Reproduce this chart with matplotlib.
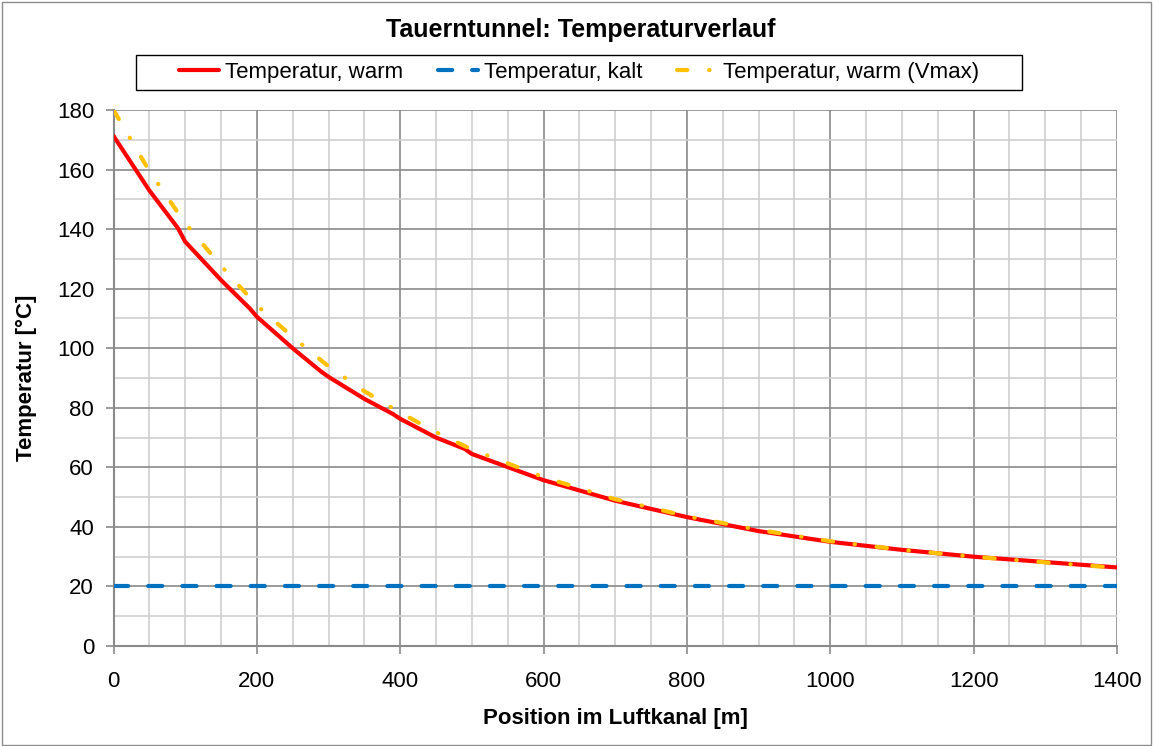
"""
Tauerntunnel: Temperaturverlauf entlang des Luftkanals.
"""
import matplotlib
matplotlib.use("Agg")
import matplotlib.pyplot as plt
from matplotlib.patches import Rectangle
from matplotlib.ticker import MultipleLocator

OUTPUT = "out.png"
FONT   = ["Liberation Sans", "DejaVu Sans"]
FS     = 16

RED    = "#ff0000"
BLUE   = "#0070c0"
YELLOW = "#ffc000"
GRID_MAJOR = "#8a8a8a"
GRID_MINOR = "#cfcfcf"

# warm case
pos_warm  = [0, 50, 90, 100, 150, 190, 200, 250, 290, 300, 350, 390, 400,
             450, 490, 500, 600, 700, 800, 900, 1000, 1100, 1200, 1300, 1400]
temp_warm = [171.3, 153.0, 140.3, 135.8, 122.9, 113.4, 110.6, 100.0, 92.1,
             90.4, 83.0, 77.9, 76.3, 70.0, 66.2, 64.5, 55.7, 48.8, 43.3,
             38.6, 35.0, 32.3, 30.0, 28.2, 26.4]

# cold case
pos_kalt  = [0, 1400]
temp_kalt = [20, 20]

# warm case, max. velocity
pos_vmax  = [0, 50, 100, 150, 200, 250, 300, 350, 400, 450, 500, 600, 700,
             800, 900, 1000, 1100, 1200, 1300, 1400]
temp_vmax = [180.0, 159.5, 142.0, 127.7, 114.4, 103.8, 93.9, 85.6, 78.4,
             71.8, 66.0, 56.7, 49.3, 43.6, 39.0, 35.2, 32.3, 30.0, 28.1, 26.3]

plt.rcParams["font.family"] = FONT

fig = plt.figure(figsize=(11.57, 7.46), dpi=100)
fig.patch.set_facecolor("white")
ax = fig.add_axes([0.0981, 0.134, 0.8673, 0.7185])

ax.plot(pos_warm, temp_warm, color=RED, lw=3, solid_capstyle="round",
        solid_joinstyle="round", label="Temperatur, warm", zorder=3)
ax.plot(pos_kalt, temp_kalt, color=BLUE, lw=3, dashes=(3.4, 4.8),
        dash_capstyle="round", label="Temperatur, kalt", zorder=3)
ax.plot(pos_vmax, temp_vmax, color=YELLOW, lw=3,
        dashes=(2.5, 5.2, 0.1, 5.2), dash_capstyle="round",
        label="Temperatur, warm (Vmax)", zorder=4)

ax.set_xlim(0, 1400)
ax.set_ylim(0, 180)
ax.xaxis.set_major_locator(MultipleLocator(200))
ax.xaxis.set_minor_locator(MultipleLocator(50))
ax.yaxis.set_major_locator(MultipleLocator(20))
ax.yaxis.set_minor_locator(MultipleLocator(10))

ax.grid(which="minor", color=GRID_MINOR, lw=1.2, zorder=0)
ax.grid(which="major", color=GRID_MAJOR, lw=1.2, zorder=1)
ax.set_axisbelow(True)

for side in ("top", "right"):
    ax.spines[side].set_visible(False)
for side in ("left", "bottom"):
    ax.spines[side].set_color(GRID_MAJOR)
    ax.spines[side].set_linewidth(1.5)

ax.tick_params(which="major", direction="out", length=6, width=1.2,
               color=GRID_MAJOR, labelsize=FS, labelcolor="black")
ax.tick_params(axis="y", which="major", pad=8)
ax.tick_params(axis="x", which="major", pad=12)
ax.tick_params(which="minor", length=0)

ax.set_xlabel("Position im Luftkanal [m]", fontsize=FS, fontweight="bold")
ax.set_ylabel("Temperatur [°C]", fontsize=FS, fontweight="bold")
ax.xaxis.set_label_coords(0.5, -0.116)
ax.yaxis.set_label_coords(-0.076, 0.5)

fig.text(0.502, 1 - 30 / 746, "Tauerntunnel: Temperaturverlauf",
         ha="center", va="center", fontsize=18, fontweight="bold")

# legend without its own frame, box drawn separately
fig.legend(loc="center", ncol=3, bbox_to_anchor=(579 / 1157, 1 - 72.5 / 746),
           fontsize=FS, frameon=False, handlelength=1.8, handletextpad=0.28,
           columnspacing=1.55, borderpad=0, borderaxespad=0)
fig.add_artist(Rectangle((136 / 1157, 1 - 90 / 746), 886 / 1157, 35 / 746,
                         transform=fig.transFigure, fill=False,
                         edgecolor="black", lw=1.0))

# outer chart border
fig.add_artist(Rectangle((1.5 / 1157, 1.5 / 746), 1149.5 / 1157, 743 / 746,
                         transform=fig.transFigure, fill=False,
                         edgecolor="#8c8c8c", lw=1.0))

fig.savefig(OUTPUT, dpi=100, facecolor="white")
plt.close(fig)
print(f"Saved {OUTPUT}")
